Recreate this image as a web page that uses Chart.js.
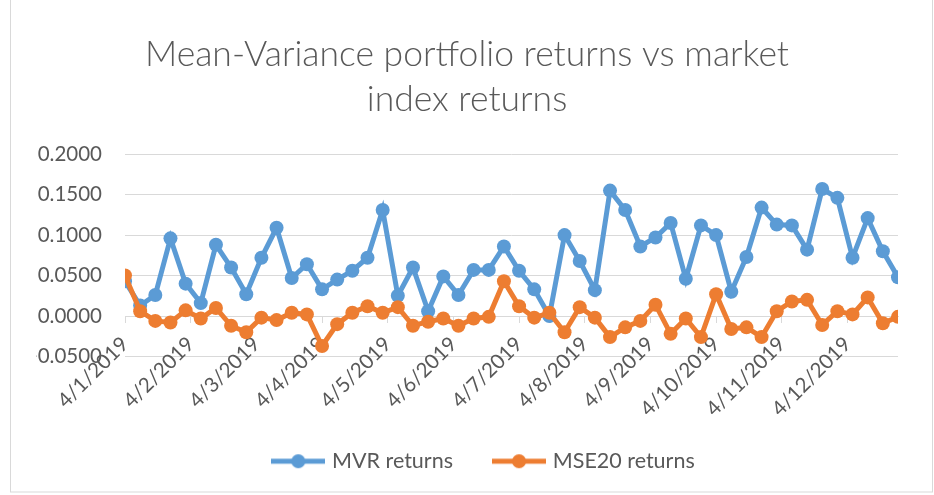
<!DOCTYPE html>
<html>
<head>
<meta charset="utf-8">
<script src="https://cdn.jsdelivr.net/npm/chart.js@4.4.1/dist/chart.umd.min.js"></script>
<style>
  html, body { margin: 0; padding: 0; background: #fff; }
</style>
</head>
<body>
<canvas id="returnsChart" width="934" height="495"></canvas>
<script>
// weekly returns (52 weeks)
const mvrReturns = [
  0.043, 0.013, 0.026, 0.096, 0.040, 0.016, 0.088, 0.060, 0.027, 0.072,
  0.109, 0.047, 0.064, 0.033, 0.045, 0.056, 0.072, 0.131, 0.025, 0.060,
  0.006, 0.049, 0.026, 0.057, 0.057, 0.086, 0.056, 0.033, 0.000, 0.100,
  0.068, 0.032, 0.155, 0.131, 0.086, 0.097, 0.115, 0.046, 0.112, 0.100,
  0.030, 0.073, 0.134, 0.113, 0.112, 0.082, 0.157, 0.146, 0.072, 0.121,
  0.080, 0.048
];
const mse20Returns = [
  0.050, 0.006, -0.006, -0.008, 0.007, -0.003, 0.010, -0.012, -0.020, -0.002,
  -0.005, 0.004, 0.002, -0.037, -0.010, 0.004, 0.012, 0.004, 0.011, -0.012,
  -0.007, -0.003, -0.012, -0.003, -0.001, 0.043, 0.012, -0.002, 0.004, -0.020,
  0.011, -0.002, -0.026, -0.014, -0.006, 0.014, -0.022, -0.003, -0.026, 0.027,
  -0.016, -0.014, -0.026, 0.006, 0.018, 0.020, -0.011, 0.006, 0.002, 0.023,
  -0.009, -0.001
];
// month labels on the x axis
const dateLabels = [
  '4/1/2019', '4/2/2019', '4/3/2019', '4/4/2019', '4/5/2019', '4/6/2019',
  '4/7/2019', '4/8/2019', '4/9/2019', '4/10/2019', '4/11/2019', '4/12/2019'
];
const seriesNames = ['MVR returns', 'MSE20 returns'];

const blue = '#5B9BD5';
const orange = '#ED7D31';
const textGrey = '#595959';
const lineGrey = '#D9D9D9';
const fontFamily = 'Lato, "Open Sans", sans-serif';

// line + dot sample used in the legend (like excel)
function legendMarker(color) {
    let c = document.createElement('canvas');
    c.width = 54;
    c.height = 16;
    let g = c.getContext('2d');
    g.strokeStyle = color;
    g.lineWidth = 5;
    g.beginPath();
    g.moveTo(0, 8);
    g.lineTo(54, 8);
    g.stroke();
    g.fillStyle = color;
    g.beginPath();
    g.arc(27, 8, 7, 0, Math.PI * 2);
    g.fill();
    return c;
}
const markers = [legendMarker(blue), legendMarker(orange)];

// white background + thin grey frame round the chart
const frame = {
    id: 'frame',
    beforeDraw(chart) {
        let g = chart.ctx;
        g.save();
        g.fillStyle = '#fff';
        g.fillRect(0, 0, chart.width, chart.height);
        g.strokeStyle = lineGrey;
        g.lineWidth = 1;
        g.strokeRect(10.5, -2, 922, 494);
        g.restore();
    }
};

// excel legend sits a bit right of centre
const legendNudge = {
    id: 'legendNudge',
    afterLayout(chart) {
        chart.legend.left += 18;
        chart.legend.right += 18;
    }
};

function toPoints(values) {
    return values.map((v, i) => ({ x: i, y: v }));
}

let returnsCtx = document.getElementById('returnsChart').getContext('2d');

let returnsChart = new Chart(returnsCtx, {
    type: 'line',
    data: {
        datasets: [{
            label: seriesNames[0],
            data: toPoints(mvrReturns),
            borderColor: blue,
            backgroundColor: blue,
            borderWidth: 5,
            pointRadius: 7,
            pointBorderWidth: 0,
            pointHoverRadius: 7,
            tension: 0,
            order: 1
        }, {
            label: seriesNames[1],
            data: toPoints(mse20Returns),
            borderColor: orange,
            backgroundColor: orange,
            borderWidth: 5,
            pointRadius: 7,
            pointBorderWidth: 0,
            pointHoverRadius: 7,
            tension: 0,
            order: 0
        }]
    },
    plugins: [frame, legendNudge],
    options: {
        responsive: false,
        animation: false,
        devicePixelRatio: 1,
        layout: {
            padding: { left: 36, right: 36, top: 0, bottom: 13 }
        },
        scales: {
            x: {
                type: 'linear',
                position: { y: 0 },
                min: 0,
                max: mvrReturns.length - 1,
                afterBuildTicks: (scale) => {
                    scale.ticks = dateLabels.map((_, k) => ({ value: k * mvrReturns.length / dateLabels.length }));
                },
                ticks: {
                    autoSkip: false,
                    minRotation: 45,
                    maxRotation: 45,
                    padding: 10,
                    color: textGrey,
                    font: { family: fontFamily, size: 20.5 },
                    callback: (value, index) => dateLabels[index]
                },
                grid: {
                    drawOnChartArea: false,
                    drawTicks: true,
                    tickLength: 6,
                    color: lineGrey
                },
                border: { color: lineGrey, width: 1 }
            },
            // empty axis, only keeps room between plot and legend
            spacer: {
                type: 'linear',
                axis: 'x',
                position: 'bottom',
                display: true,
                grid: { display: false },
                ticks: { display: false },
                border: { display: false },
                afterFit: (scale) => { scale.height = 84; }
            },
            y: {
                min: -0.05,
                max: 0.2,
                ticks: {
                    stepSize: 0.05,
                    padding: 23,
                    color: textGrey,
                    font: { family: fontFamily, size: 20.5 },
                    callback: (v) => v.toFixed(4)
                },
                grid: { color: lineGrey, drawTicks: false },
                border: { display: false },
                afterFit: (scale) => { scale.width = 89; }
            }
        },
        plugins: {
            title: {
                display: true,
                text: ['Mean-Variance portfolio returns vs market', 'index returns'],
                color: textGrey,
                font: { family: fontFamily, size: 35.5, weight: 300, lineHeight: 1.27 },
                padding: { top: 32, bottom: 32 }
            },
            legend: {
                position: 'bottom',
                labels: {
                    usePointStyle: true,
                    pointStyleWidth: 46,
                    padding: 10,
                    color: textGrey,
                    font: { family: fontFamily, size: 21.5 },
                    generateLabels: (chart) => {
                        let items = Chart.defaults.plugins.legend.labels.generateLabels(chart);
                        items.forEach(item => { item.pointStyle = markers[item.datasetIndex]; });
                        items.sort((a, b) => a.datasetIndex - b.datasetIndex);
                        // wider gap after the first entry
                        items[0].text = items[0].text + '      ';
                        return items;
                    }
                }
            },
            tooltip: { enabled: false }
        }
    }
});
</script>
</body>
</html>
